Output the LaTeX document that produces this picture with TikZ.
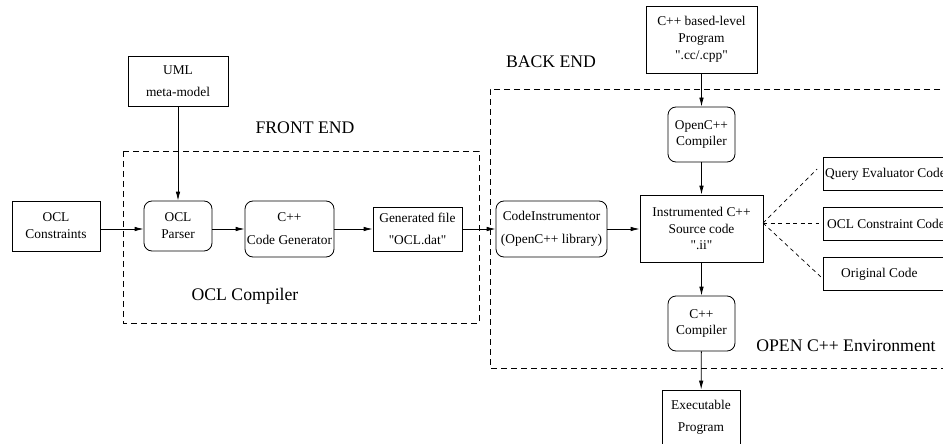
\documentclass[tikz,border=0pt]{standalone}
\usepackage{fontspec}
\setmainfont{Liberation Serif}
\newfontfamily\plainqf{Liberation Serif}
\newcommand\dq{{\plainqf"}}
\usetikzlibrary{arrows.meta,calc}
\begin{document}
\begin{tikzpicture}[x=1pt,y=-1pt,
  txt/.style={font=\fontsize{13.4}{16.8}\selectfont, align=center, inner sep=0pt},
  sq/.style={txt, draw, line width=0.8pt},
  rnd/.style={sq, rounded corners=8pt},
  big/.style={font=\fontsize{17.7}{20}\selectfont, inner sep=0pt},
  arr/.style={line width=0.8pt, -{Latex[length=9pt,width=4.5pt]}},
  dsh/.style={line width=0.8pt, dash pattern=on 6pt off 4pt},
  dln/.style={line width=0.7pt, dash pattern=on 4pt off 3.5pt}]
\useasboundingbox (0,0) rectangle (943,444);
\clip (0,0) rectangle (943,444);

% dashed environments
\draw[dsh] (123,151) rectangle (479,323);
\draw[dsh] (960,89) -- (490,89) -- (490,368) -- (960,368);

% labels
\node[big] (fe) at (305,128) {FRONT END};
\node[big] (oc) at (245,296) {OCL Compiler};
\node[big] (be) at (551,62) {BACK END};
\node[big] (env) at (846,346) {OPEN C++ Environment};

% front end nodes
\node[sq, minimum width=88pt, minimum height=50pt] (ocl) at (56,226) {OCL\\Constraints};
\node[sq, minimum width=100pt, minimum height=50pt] (uml) at (178,81) {UML\\[5pt]meta-model};
\node[rnd, minimum width=68pt, minimum height=50pt] (parser) at (178,226) {OCL\\Parser};
\node[rnd, minimum width=89pt, minimum height=56pt] (gen) at (289.5,229) {C++\\[6pt]Code Generator};
\node[sq, minimum width=89pt, minimum height=44pt] (gfile) at (417.5,229) {Generated file\\[5pt]\dq OCL.dat\dq};

% back end nodes
\node[rnd, minimum width=111pt, minimum height=56pt] (instr) at (551.5,229) {CodeInstrumentor\\[6pt](OpenC++ library)};
\node[sq, minimum width=111pt, minimum height=67pt] (cpp) at (701.5,39.5) {C++ based-level\\Program\\\dq.cc/.cpp\dq};
\node[rnd, minimum width=67pt, minimum height=55pt] (openc) at (701.5,134.5) {OpenC++\\Compiler};
\node[sq, minimum width=123pt, minimum height=67pt] (isrc) at (701.5,228.5) {Instrumented C++\\Source code\\\dq.ii\dq};
\node[rnd, minimum width=67pt, minimum height=55pt] (cc) at (701.5,323.5) {C++\\Compiler};
\node[sq, minimum width=78pt, minimum height=54pt] (exe) at (701,417) {Executable\\[5pt]Program};

% right boxes (clipped at right edge)
\node[sq, minimum width=137pt, minimum height=33pt] (qbox) at (891.5,173.5) {};
\node[sq, minimum width=137pt, minimum height=33pt] (obox) at (891.5,223.5) {};
\node[sq, minimum width=137pt, minimum height=33pt] (rbox) at (891.5,273.5) {};
\node[txt, anchor=west] (qt) at (825,174) {Query Evaluator Code};
\node[txt, anchor=west] (ot) at (827,224) {OCL Constraint Code};
\node[txt, anchor=west] (rt) at (841,274) {Original Code};

% connectors
\draw[arr] (uml) -- (parser);
\draw[arr] (ocl.east |- gen) -- (parser.west |- gen);
\draw[arr] (parser.east |- gen) -- (gen);
\draw[arr] (gen) -- (gfile);
\draw[arr] (gfile) -- (instr);
\draw[arr] (instr) -- (instr -| isrc.west);
\draw[arr] (cpp) -- (openc);
\draw[arr] (openc) -- (isrc);
\draw[arr] (isrc) -- (cc);
\draw[arr] (cc) -- (exe);

\coordinate (hub) at (763,223);
\coordinate (qe) at (817,169);
\coordinate (oe) at (819,223);
\coordinate (re) at (821,277);
\draw[dln] (hub) -- (qe);
\draw[dln] (hub) -- (oe);
\draw[dln] (hub) -- (re);
\end{tikzpicture}
\end{document}
